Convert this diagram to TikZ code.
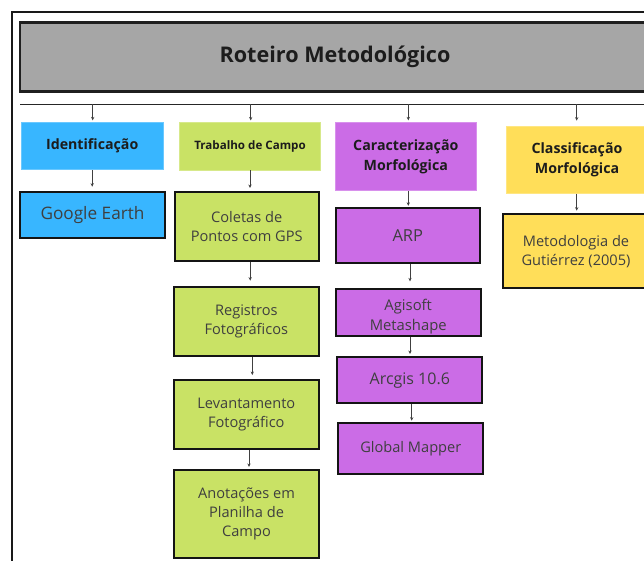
\documentclass[tikz,border=0pt]{standalone}
\usepackage{fontspec}
\setmainfont{Open Sans}
\usetikzlibrary{arrows.meta}
\definecolor{cblue}{HTML}{38B6FF}
\definecolor{clime}{HTML}{C9E265}
\definecolor{cpurp}{HTML}{CB6CE6}
\definecolor{cyell}{HTML}{FFDE59}
\definecolor{cgray}{HTML}{A6A6A6}
\definecolor{ctext}{HTML}{3F3F3F}
\definecolor{chead}{HTML}{1C1C1C}
\begin{document}
\begin{tikzpicture}[x=1pt,y=-1pt,
  hdr/.style={rectangle, inner sep=0pt, align=center, line width=0.8pt,
    font=\bfseries\fontsize{14.2}{20}\selectfont, text=chead},
  cbox/.style={rectangle, draw=black!92, line width=2pt, inner sep=0pt, align=center,
    font=\fontsize{14.6}{19.3}\selectfont, text=ctext},
  txt/.style={inner sep=0pt, align=center, font=\fontsize{14.8}{20.5}\selectfont, text=ctext},
  arr/.style={draw=black!75, line width=0.9pt, -{Stealth[length=3.5pt,width=3.2pt]}}
]
\clip (0,0) rectangle (644,561);
\fill[white] (0,0) rectangle (644,561);
% outer frame
\draw[line width=2.2pt, black!90] (12,600) -- (12,12) -- (700,12);
% title
\node[rectangle, draw=black!88, line width=2.6pt, fill=cgray, minimum width=630pt, minimum height=69pt,
  inner sep=0pt, font=\bfseries\fontsize{21.6}{24}\selectfont, text=chead] (title) at (335,57.2) {Roteiro Metodológico};
% separator line
\coordinate (bl) at (20,104.3);
\coordinate (br) at (700,104.3);
\draw[line width=1.2pt, black!85] (bl) -- (br);
\coordinate (t1) at (92.7,104.3);
\coordinate (t2) at (250.7,104.3);
\coordinate (t3) at (408.3,104.3);
\coordinate (t4) at (576.7,104.3);
% headers
\node[hdr, fill=cblue, draw=cblue!75!white, minimum width=141.7pt, minimum height=47.4pt] (idh) at (92.2,146) {Identificação};
\node[hdr, fill=clime, draw=clime!75!white, minimum width=141.4pt, minimum height=47.7pt,
  font=\bfseries\fontsize{11.6}{14}\selectfont] (trh) at (250,146.2) {Trabalho de Campo};
\node[hdr, fill=cpurp, draw=cpurp!75!white, minimum width=141.7pt, minimum height=68.4pt] (cah) at (405.8,156.5) {Caracterização\\Morfológica};
\node[hdr, fill=cyell, draw=cyell!75!white, minimum width=142pt, minimum height=67.3pt] (clh) at (577,159.7) {Classificação\\Morfológica};
% content boxes
\node[cbox, fill=cblue, minimum width=145pt, minimum height=46.6pt, font=\fontsize{17.2}{21}\selectfont] (ge) at (92.5,215) {Google Earth};
\node[cbox, fill=clime, minimum width=144pt, minimum height=69pt] (co) at (246.7,226.5) {Coletas de\\Pontos com GPS};
\node[cbox, fill=clime, minimum width=144.7pt, minimum height=69.3pt] (re) at (246.3,321.3) {Registros\\Fotográficos};
\node[cbox, fill=clime, minimum width=144.7pt, minimum height=69.3pt] (le) at (246.3,414.7) {Levantamento\\Fotográfico};
\node[cbox, fill=clime, minimum width=145pt, minimum height=87.7pt] (an) at (246.5,513.8) {Anotações em\\Planilha de\\Campo};
\node[cbox, fill=cpurp, minimum width=144.3pt, minimum height=54.4pt, font=\fontsize{16.5}{20}\selectfont] (arp) at (407.8,235.5) {ARP};
\node[cbox, fill=cpurp, minimum width=145pt, minimum height=46.7pt] (ag) at (408.2,312.7) {};
\node[txt] (agt) at (408.2,316.5) {Agisoft\\Metashape};
\node[cbox, fill=cpurp, minimum width=145pt, minimum height=46pt, font=\fontsize{16}{20}\selectfont] (ar) at (409.8,380.3) {Arcgis 10.6};
\node[cbox, fill=cpurp, minimum width=145pt, minimum height=51pt] (gm) at (410.8,448.8) {Global Mapper};
\node[cbox, fill=cyell, minimum width=146pt, minimum height=74pt] (me) at (576,251.3) {Metodologia de\\Gutiérrez (2005)};
% arrows
\draw[arr, shorten >=1.5pt] (t1) -- (t1 |- idh.north);
\draw[arr, shorten >=1.5pt] (t2) -- (t2 |- trh.north);
\draw[arr, shorten >=1.5pt] (t3) -- (t3 |- cah.north);
\draw[arr, shorten >=5pt] (t4) -- (t4 |- clh.north);
\draw[arr, shorten >=4pt] (idh.south) -- (idh.south |- ge.north);
\draw[arr, shorten >=3pt] (trh.south) -- (trh.south |- co.north);
\draw[arr, shorten >=5pt] ([xshift=3.5pt]co.south) -- ([xshift=3.5pt]co.south |- re.north);
\draw[arr, shorten >=4pt] ([xshift=6pt]re.south) -- ([xshift=6pt]re.south |- le.north);
\draw[arr, shorten >=2pt] ([xshift=2.7pt]le.south) -- ([xshift=2.7pt]le.south |- an.north);
\draw[arr, shorten >=1.5pt] ([xshift=2.5pt]cah.south) -- ([xshift=2.5pt]cah.south |- arp.north);
\draw[arr, shorten >=7pt] ([xshift=2.2pt]arp.south) -- ([xshift=2.2pt]arp.south |- ag.north);
\draw[arr, shorten >=2.3pt] ([xshift=1.8pt]ag.south) -- ([xshift=1.8pt]ag.south |- ar.north);
\draw[arr, shorten >=1.6pt] ([xshift=1.9pt]ar.south) -- ([xshift=1.9pt]ar.south |- gm.north);
\draw[arr, shorten >=2.6pt] ([xshift=-0.3pt]clh.south) -- ([xshift=-0.3pt]clh.south |- me.north);
\end{tikzpicture}
\end{document}
